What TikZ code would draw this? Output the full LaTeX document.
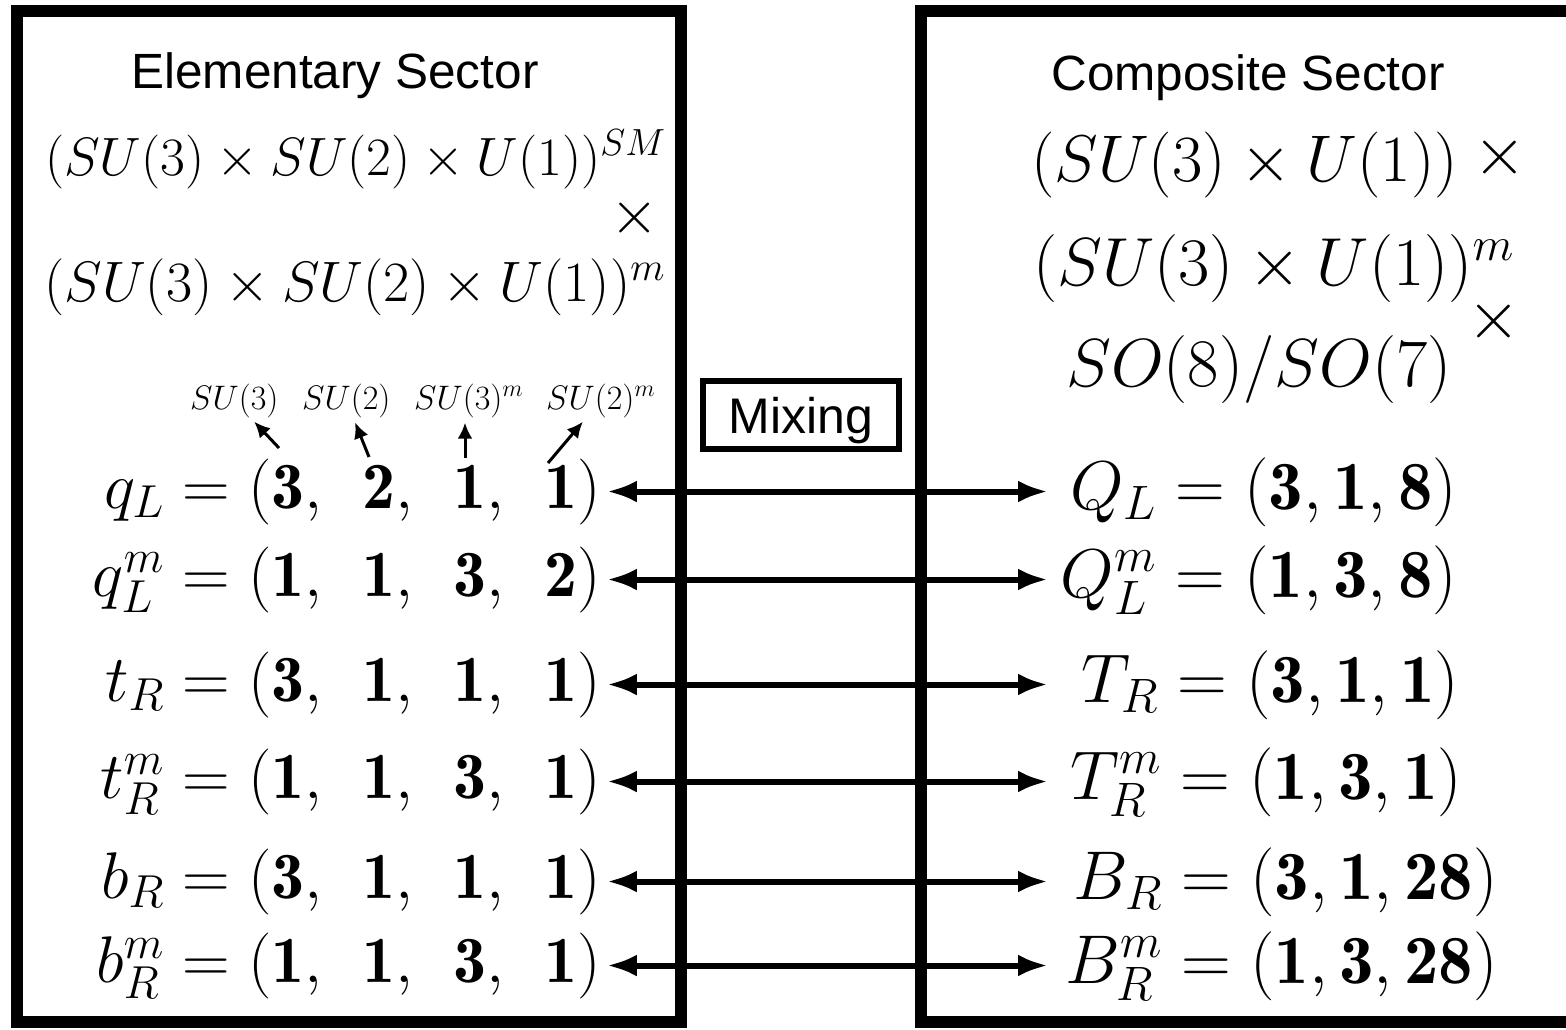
\RequirePackage{fix-cm}
\documentclass[tikz,border=0pt]{standalone}
\usepackage{fontspec}
\newfontfamily\sansfnt{Liberation Sans}
\usetikzlibrary{arrows.meta}
\begin{document}
\begin{tikzpicture}[x=1pt,y=-1pt,
  frame/.style={line width=12pt},
  title/.style={font=\sansfnt\fontsize{49.5}{58}\selectfont, inner sep=0pt, anchor=base},
  hdrL/.style={font=\fontsize{54}{64}\selectfont, inner sep=0pt},
  hdrR/.style={font=\fontsize{68}{80}\selectfont, inner sep=0pt},
  rowL/.style={font=\fontsize{66}{78}\selectfont, inner sep=0pt, outer xsep=6pt, anchor=base west},
  rowR/.style={font=\fontsize{69}{80}\selectfont, inner sep=0pt, anchor=base west},
  lbl/.style={font=\fontsize{34}{40}\selectfont, inner sep=1pt, anchor=base west},
  link/.style={line width=6pt, {Latex[length=30pt,width=22pt]}-{Latex[length=30pt,width=22pt]}},
  ptr/.style={line width=3pt, -{Latex[length=16pt,width=15pt]}, shorten >=4pt},
  mixbox/.style={draw, line width=6pt, minimum width=196pt, minimum height=68pt, inner sep=0pt,
    text depth=0pt, font=\sansfnt\fontsize{50}{58}\selectfont}
]
\useasboundingbox (0,0) rectangle (1566,1029);

% frames
\draw[frame] (17,11) rectangle (681,1022);
\draw[frame] (1580,11) -- (921,11) -- (921,1022) -- (1580,1022);

% titles
\node[title] (et) at (335,88) {Elementary Sector};
\node[title] (ct) at (1248,90) {Composite Sector};

% left header
\node[hdrL, anchor=base west] (lh1) at (45,175) {$(SU(3)\times SU(2)\times U(1))^{SM}$};
\node[hdrL, font=\fontsize{62}{72}\selectfont] (lhx) at (635,218) {$\times$};
\node[hdrL, font=\fontsize{57}{66}\selectfont, anchor=base west] (lh2) at (44,301) {$(SU(3)\times SU(2)\times U(1))^{m}$};

% right header
\node[hdrR, font=\fontsize{66}{78}\selectfont, anchor=base west] (rh1) at (1031,181) {$(SU(3)\times U(1))$};
\node[hdrR] (rhx1) at (1500,157) {$\times$};
\node[hdrR, anchor=base west] (rh2) at (1033,285) {$(SU(3)\times U(1))^{m}$};
\node[hdrR] (rhx2) at (1494,321) {$\times$};
\node[hdrR, anchor=base west] (rh3) at (1066,386) {$SO(8)/SO(7)$};

% mixing
\node[mixbox] (mix) at (801,415) {Mixing};

% group labels
\node[lbl] (su3) at (189,409) {$SU(3)$};
\node[lbl] (su2) at (301,409) {$SU(2)$};
\node[lbl] (su3m) at (413,409) {$SU(3)^m$};
\node[lbl] (su2m) at (545,409) {$SU(2)^m$};

% left rows
\node[rowL] (qL)  at (58,508) {\makebox[100pt][r]{$q_L$}${}=(\mathbf{3},\hspace{0.44em}\mathbf{2},\hspace{0.44em}\mathbf{1},\hspace{0.44em}\mathbf{1})$};
\node[rowL] (qLm) at (58,596) {\makebox[100pt][r]{$q_L^m$}${}=(\mathbf{1},\hspace{0.44em}\mathbf{1},\hspace{0.44em}\mathbf{3},\hspace{0.44em}\mathbf{2})$};
\node[rowL] (tR)  at (58,701) {\makebox[100pt][r]{$t_R$}${}=(\mathbf{3},\hspace{0.44em}\mathbf{1},\hspace{0.44em}\mathbf{1},\hspace{0.44em}\mathbf{1})$};
\node[rowL] (tRm) at (58,798) {\makebox[100pt][r]{$t_R^m$}${}=(\mathbf{1},\hspace{0.44em}\mathbf{1},\hspace{0.44em}\mathbf{3},\hspace{0.44em}\mathbf{1})$};
\node[rowL] (bR)  at (58,898) {\makebox[100pt][r]{$b_R$}${}=(\mathbf{3},\hspace{0.44em}\mathbf{1},\hspace{0.44em}\mathbf{1},\hspace{0.44em}\mathbf{1})$};
\node[rowL] (bRm) at (58,982) {\makebox[100pt][r]{$b_R^m$}${}=(\mathbf{1},\hspace{0.44em}\mathbf{1},\hspace{0.44em}\mathbf{3},\hspace{0.44em}\mathbf{1})$};

% right rows
\node[rowR] (QL)  at (1048,509) {\makebox[108pt][r]{$Q_L$}${}=(\mathbf{3},\mathbf{1},\mathbf{8})$};
\node[rowR] (QLm) at (1048,597) {\makebox[108pt][r]{$Q_L^m$}${}=(\mathbf{1},\mathbf{3},\mathbf{8})$};
\node[rowR] (TR)  at (1048,702) {\makebox[110pt][r]{$T_R$}${}=(\mathbf{3},\mathbf{1},\mathbf{1})$};
\node[rowR] (TRm) at (1048,799) {\makebox[113pt][r]{$T_R^m$}${}=(\mathbf{1},\mathbf{3},\mathbf{1})$};
\node[rowR] (BR)  at (1048,899) {\makebox[114pt][r]{$B_R$}${}=(\mathbf{3},\mathbf{1},\mathbf{28})$};
\node[rowR] (BRm) at (1048,983) {\makebox[114pt][r]{$B_R^m$}${}=(\mathbf{1},\mathbf{3},\mathbf{28})$};

% mixing arrows
\foreach \a/\b in {qL/QL,qLm/QLm,tR/TR,tRm/TRm,bR/BR,bRm/BRm}
  \draw[link] (\a.east) -- (\a.east -| \b.west);

% pointer arrows
\coordinate (t1) at (279,448);
\coordinate (t2) at (369,457);
\coordinate (t3) at (465,458);
\coordinate (t4) at (548,463);
\draw[ptr] (t1) -- (su3);
\draw[ptr] (t2) -- (su2);
\draw[ptr] (t3) -- (t3 |- su3m.south);
\draw[ptr] (t4) -- (su2m);
\end{tikzpicture}
\end{document}
